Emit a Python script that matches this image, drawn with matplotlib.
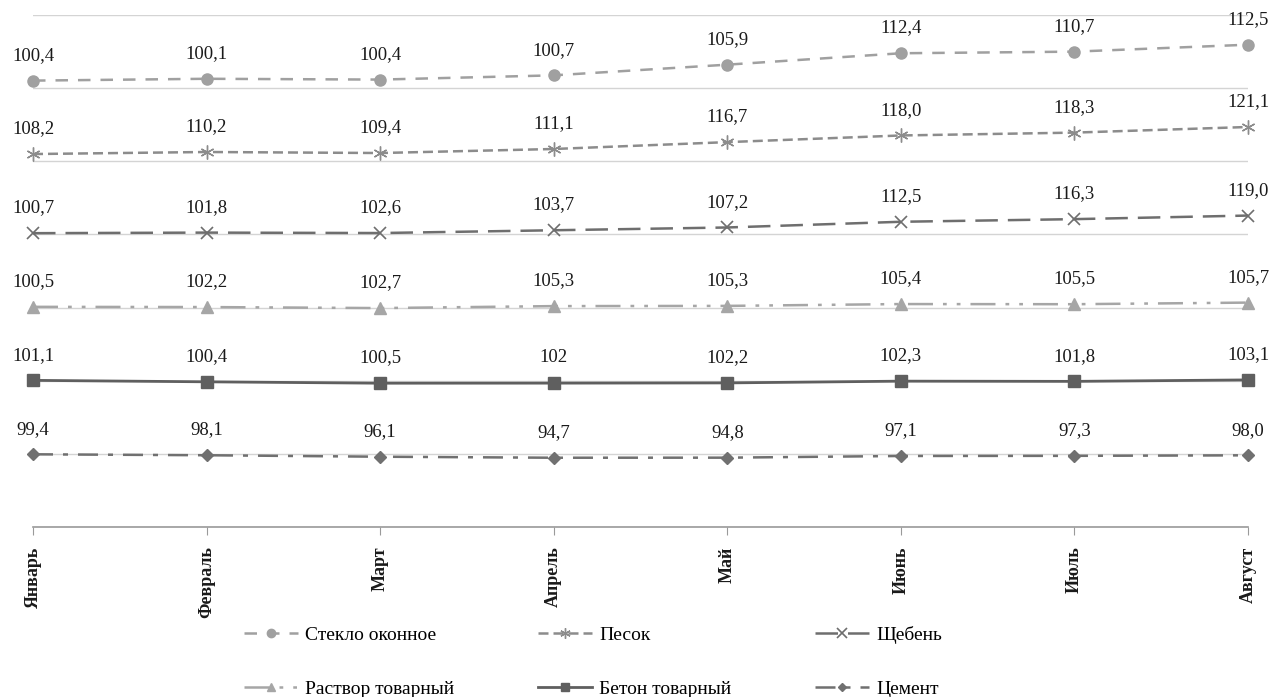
import matplotlib
matplotlib.use("Agg")
import matplotlib.pyplot as plt
import numpy as np

# Months (x categories)
months = ["Январь", "Февраль", "Март", "Апрель", "Май", "Июнь", "Июль", "Август"]

# Series values, bottom of the stack first
cement = [99.4, 98.1, 96.1, 94.7, 94.8, 97.1, 97.3, 98.0]
beton = [101.1, 100.4, 100.5, 102, 102.2, 102.3, 101.8, 103.1]
rastvor = [100.5, 102.2, 102.7, 105.3, 105.3, 105.4, 105.5, 105.7]
shcheben = [100.7, 101.8, 102.6, 103.7, 107.2, 112.5, 116.3, 119.0]
pesok = [108.2, 110.2, 109.4, 111.1, 116.7, 118.0, 118.3, 121.1]
steklo = [100.4, 100.1, 100.4, 100.7, 105.9, 112.4, 110.7, 112.5]

names = ["Цемент", "Бетон товарный", "Раствор товарный",
         "Щебень", "Песок", "Стекло оконное"]
series = [cement, beton, rastvor, shcheben, pesok, steklo]

styles = [
    dict(color="#707070", marker="D", ms=6, ls=(0, (8, 4, 2, 4)), lw=1.8),
    dict(color="#5f5f5f", marker="s", ms=8, ls="-", lw=2.0),
    dict(color="#a6a6a6", marker="^", ms=8, ls=(0, (10, 4, 1.5, 4, 1.5, 4)), lw=1.8),
    dict(color="#6e6e6e", marker="x", ms=9, ls=(0, (9, 4)), lw=1.8, mew=1.2),
    dict(color="#8c8c8c", marker=(6, 2, 0), ms=10, ls=(0, (4, 2)), lw=1.8, mew=1.0),
    dict(color="#a0a0a0", marker="o", ms=8, ls=(0, (5, 4)), lw=1.8),
]


def fmt(v):
    if isinstance(v, int):
        return str(v)
    return f"{v:.1f}".replace(".", ",")


plt.rcParams["font.family"] = ["Liberation Serif", "DejaVu Serif"]

fig = plt.figure(figsize=(12.87, 6.97), dpi=100)
ax = fig.add_axes([33 / 1287, 1 - 527 / 697, (1248 - 33) / 1287, 512 / 697])

x = np.arange(len(months))
base = np.zeros(len(months))
handles = {}
for name, vals, st in zip(names, series, styles):
    top = base + np.array(vals, dtype=float)
    (h,) = ax.plot(x, top, label=name, zorder=3, clip_on=False, **st)
    handles[name] = h
    for xi, yi, v in zip(x, top, vals):
        ax.annotate(fmt(v), (xi, yi), textcoords="offset points", xytext=(0, 12),
                    ha="center", va="bottom", fontsize=13.5, color="#1a1a1a")
    base = top

ax.set_xlim(0, len(months) - 1)
ax.set_ylim(0, 700)
ax.set_yticks(np.arange(0, 701, 100))
ax.yaxis.grid(True, color="#d4d4d4", lw=1.0)
ax.set_axisbelow(True)
ax.tick_params(axis="y", left=False, labelleft=False)
for s in ["top", "right", "left"]:
    ax.spines[s].set_visible(False)
ax.spines["bottom"].set_color("#9a9a9a")
ax.spines["bottom"].set_linewidth(1.2)

ax.set_xticks(x)
ax.set_xticklabels(months, rotation=90, fontsize=13, fontweight="bold",
                   color="#1a1a1a", va="top")
ax.tick_params(axis="x", length=6, color="#9a9a9a", pad=8)

order = ["Стекло оконное", "Раствор товарный", "Песок",
         "Бетон товарный", "Щебень", "Цемент"]
fig.legend([handles[n] for n in order], order, ncol=3, loc="upper left",
           bbox_to_anchor=(234 / 1287, 1 - 616 / 697), frameon=False, fontsize=14,
           handlelength=2.8, columnspacing=4.3, labelspacing=1.9,
           handletextpad=0.35, borderpad=0, markerscale=0.75)

fig.savefig("out.png", dpi=100)
